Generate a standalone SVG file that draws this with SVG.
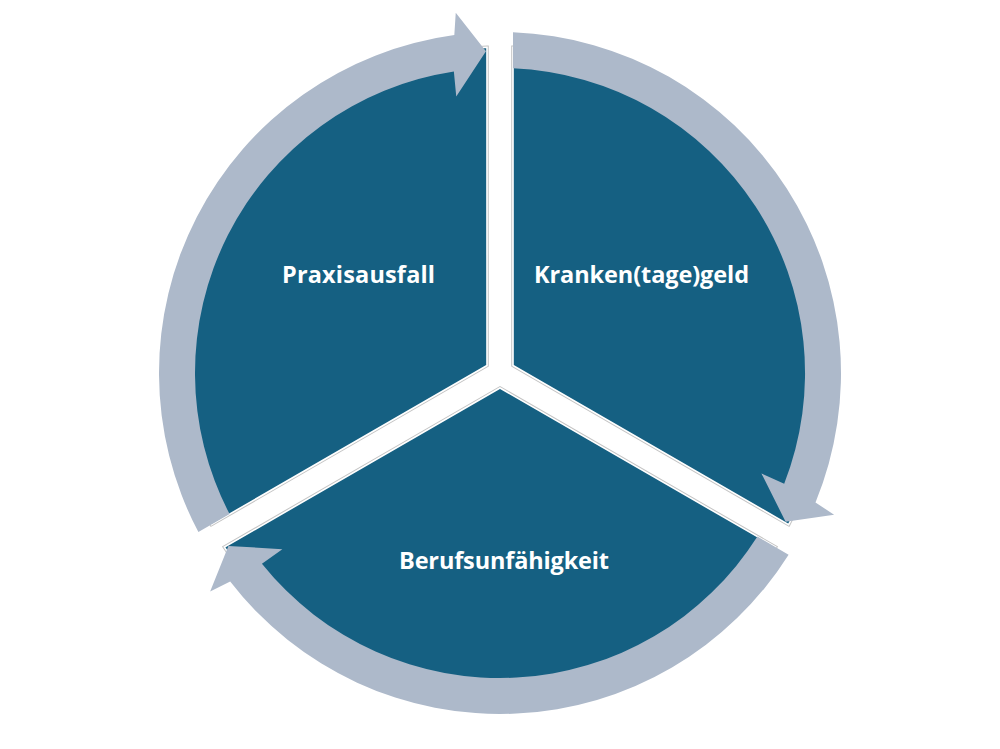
<svg xmlns="http://www.w3.org/2000/svg" xmlns:xlink="http://www.w3.org/1999/xlink" width="1000" height="749" viewBox="0 0 1000 749">
  <style>
    .sector-edge { fill: none; stroke: #C4C4C4; stroke-width: 3.6; stroke-linejoin: miter; }
    .sector { fill: #156082; stroke: #FFFFFF; stroke-width: 1.6; stroke-linejoin: miter; }
    .arrow { fill: #ADB9CA; stroke: none; }
    .label { font-family: "Open Sans", "Liberation Sans", sans-serif; font-weight: 700; font-size: 23.5px; fill: #FFFFFF; text-anchor: middle; }
  </style>
  <defs>
    <path id="sectorShape" d="M 513 365.5 L 513 47.26 A 326 326 0 0 1 788.6 524.6 Z"/>
    <path id="arrowShape" d="M 513 32.25 A 341 341 0 0 1 815.5 502.4 L 834.1 514.8 L 785.6 521.7 L 761.4 473.4 L 784.2 483.8 A 305 305 0 0 0 513 68.28 Z"/>
  </defs>
  <rect x="0" y="0" width="1000" height="749" fill="#FFFFFF"/>

  <g id="node-krankentagegeld">
    <use xlink:href="#sectorShape" href="#sectorShape" class="sector-edge"/>
    <use xlink:href="#sectorShape" href="#sectorShape" class="sector"/>
  </g>
  <g id="node-berufsunfaehigkeit">
    <use xlink:href="#sectorShape" href="#sectorShape" class="sector-edge" transform="rotate(120 500 373)"/>
    <use xlink:href="#sectorShape" href="#sectorShape" class="sector" transform="rotate(120 500 373)"/>
  </g>
  <g id="node-praxisausfall">
    <use xlink:href="#sectorShape" href="#sectorShape" class="sector-edge" transform="rotate(240 500 373)"/>
    <use xlink:href="#sectorShape" href="#sectorShape" class="sector" transform="rotate(240 500 373)"/>
  </g>

  <g id="connectors">
    <use xlink:href="#arrowShape" href="#arrowShape" class="arrow"/>
    <use xlink:href="#arrowShape" href="#arrowShape" class="arrow" transform="rotate(120 500 373)"/>
    <use xlink:href="#arrowShape" href="#arrowShape" class="arrow" transform="rotate(240 500 373)"/>
  </g>

  <g id="labels">
    <text class="label" x="358.5" y="283" textLength="153" lengthAdjust="spacing">Praxisausfall</text>
    <text class="label" x="641.5" y="283" textLength="215" lengthAdjust="spacing">Kranken(tage)geld</text>
    <text class="label" x="504" y="569" textLength="210" lengthAdjust="spacing">Berufsunfähigkeit</text>
  </g>
</svg>
